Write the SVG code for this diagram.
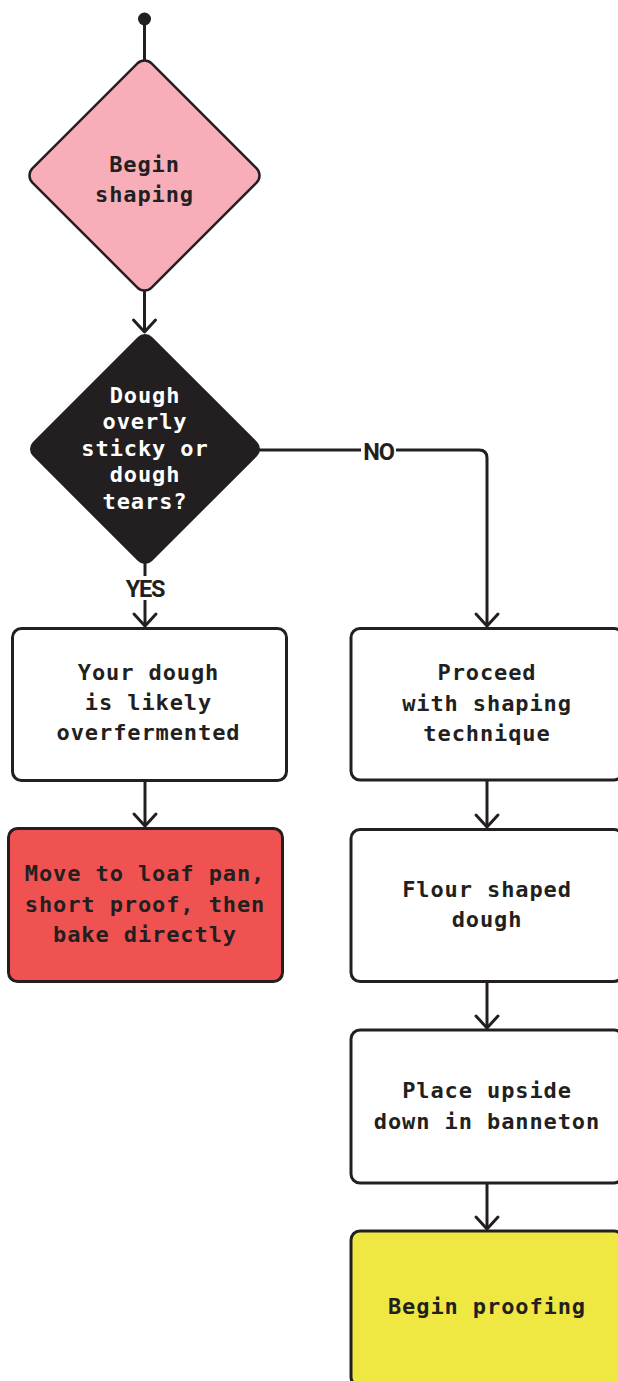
<svg xmlns="http://www.w3.org/2000/svg" width="618" height="1381" viewBox="0 0 618 1381">
<defs>
<marker id="arr" markerUnits="userSpaceOnUse" markerWidth="30" markerHeight="30" viewBox="-15 -15 30 30" refX="0" refY="0" orient="auto">
<path d="M-12,-11 L0,0 L-12,11" fill="none" stroke="#231F20" stroke-width="3" stroke-linecap="round" stroke-linejoin="round"/>
</marker>
<style>
.t{font-family:"DejaVu Sans Mono","Liberation Mono",monospace;font-weight:700;font-size:22px;letter-spacing:0.9px;text-anchor:middle;fill:#231F20}
.w{fill:#FFFFFF}
.box{stroke:#231F20;stroke-width:3}
.c{fill:none;stroke:#231F20;stroke-width:3}
.lbl{font-family:Roboto,"Liberation Sans",sans-serif;font-weight:700;font-size:23.5px;letter-spacing:-1.2px;text-anchor:middle;fill:#231F20}
</style>
</defs>
<rect width="618" height="1381" fill="#FFFFFF"/>
<g id="connectors">
<circle cx="144.5" cy="19" r="6.5" fill="#231F20"/>
<path class="c" d="M144.5 19 V62"/>
<path class="c" d="M144.5 289 V332" marker-end="url(#arr)"/>
<path class="c" d="M145 563 V626" marker-end="url(#arr)"/>
<path class="c" d="M259 450 H479 Q487 450 487 458 V626" marker-end="url(#arr)"/>
<path class="c" d="M145 781 V826" marker-end="url(#arr)"/>
<path class="c" d="M487 780 V827" marker-end="url(#arr)"/>
<path class="c" d="M487 982 V1028" marker-end="url(#arr)"/>
<path class="c" d="M487 1183 V1229" marker-end="url(#arr)"/>
<rect x="120" y="576" width="50" height="24" fill="#FFFFFF"/>
<text class="lbl" x="145" y="597">YES</text>
<rect x="361" y="440" width="35" height="22" fill="#FFFFFF"/>
<text class="lbl" x="378.5" y="459.5">NO</text>
</g>
<g id="begin-shaping">
<rect x="-84.25" y="-84.25" width="168.5" height="168.5" rx="10" fill="#F7AEB8" stroke="#231F20" stroke-width="2.5" transform="translate(144.5 175.5) rotate(45)"/>
<text class="t" x="144.5" y="171.5">Begin</text>
<text class="t" x="144.5" y="201.5">shaping</text>
</g>
<g id="decision">
<rect x="-84.25" y="-84.25" width="168.5" height="168.5" rx="10" fill="#231F20" transform="translate(145 449) rotate(45)"/>
<text class="t w" x="145" y="402.5">Dough</text>
<text class="t w" x="145" y="429">overly</text>
<text class="t w" x="145" y="455.5">sticky or</text>
<text class="t w" x="145" y="482">dough</text>
<text class="t w" x="145" y="508.5">tears?</text>
</g>
<g id="overfermented">
<rect class="box" x="12.5" y="628.5" width="274" height="152" rx="9" fill="#FFFFFF"/>
<text class="t" x="148.5" y="680">Your dough</text>
<text class="t" x="148.5" y="710">is likely</text>
<text class="t" x="148.5" y="740">overfermented</text>
</g>
<g id="loaf-pan">
<rect class="box" x="8.5" y="828.5" width="274" height="153" rx="9" fill="#F05252"/>
<text class="t" x="145" y="881">Move to loaf pan,</text>
<text class="t" x="145" y="911.5">short proof, then</text>
<text class="t" x="145" y="941.5">bake directly</text>
</g>
<g id="proceed">
<rect class="box" x="351" y="628.5" width="272" height="151.5" rx="9" fill="#FFFFFF"/>
<text class="t" x="487" y="680">Proceed</text>
<text class="t" x="487" y="710.5">with shaping</text>
<text class="t" x="487" y="740.5">technique</text>
</g>
<g id="flour">
<rect class="box" x="351" y="829.5" width="272" height="152" rx="9" fill="#FFFFFF"/>
<text class="t" x="487" y="897">Flour shaped</text>
<text class="t" x="487" y="927">dough</text>
</g>
<g id="banneton">
<rect class="box" x="351" y="1030" width="272" height="153" rx="9" fill="#FFFFFF"/>
<text class="t" x="487" y="1098">Place upside</text>
<text class="t" x="487" y="1128.5">down in banneton</text>
</g>
<g id="proofing">
<rect class="box" x="351" y="1231" width="272" height="155" rx="9" fill="#EFE842"/>
<text class="t" x="487" y="1314">Begin proofing</text>
</g>
</svg>
